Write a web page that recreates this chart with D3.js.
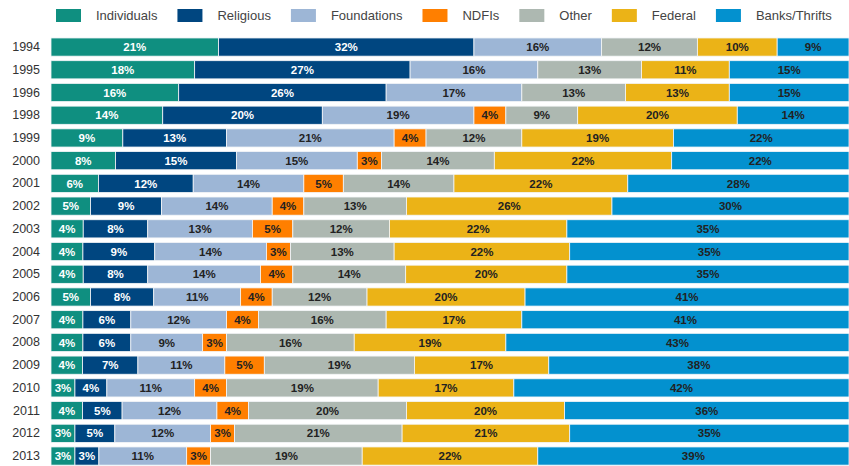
<!DOCTYPE html>
<html>
<head>
<meta charset="utf-8">
<script src="https://cdn.jsdelivr.net/npm/d3@7"></script>
<style>
  body { margin: 0; background: #fff; }
  svg { display: block; font-family: "Liberation Sans", Arial, sans-serif; }
</style>
</head>
<body>
<script>
// chart data
var years = ["1994","1995","1996","1998","1999","2000","2001","2002","2003","2004",
             "2005","2006","2007","2008","2009","2010","2011","2012","2013"];
var seriesNames = ["Individuals","Religious","Foundations","NDFIs","Other","Federal","Banks/Thrifts"];
var individuals = [21,18,16,14,9,8,6,5,4,4,4,5,4,4,4,3,4,3,3];
var religious   = [32,27,26,20,13,15,12,9,8,9,8,8,6,6,7,4,5,5,3];
var foundations = [16,16,17,19,21,15,14,14,13,14,14,11,12,9,11,11,12,12,11];
var ndfis       = [0,0,0,4,4,3,5,4,5,3,4,4,4,3,5,4,4,3,3];
var other       = [12,13,13,9,12,14,14,13,12,13,14,12,16,16,19,19,20,21,19];
var federal     = [10,11,13,20,19,22,22,26,22,22,20,20,17,19,17,17,20,21,22];
var banks       = [9,15,15,14,22,22,28,30,35,35,35,41,41,43,38,42,36,35,39];

var svgWidth = 849;
var svgHeight = 466;

var colors = ["#0f8f80", "#004680", "#9db6d6", "#ff7f00", "#adb8b1", "#ebb317", "#0391cf"];
var lightText = ["Individuals", "Religious"];

// build table for the stack
var seriesValues = [individuals, religious, foundations, ndfis, other, federal, banks];
var table = years.map(function(y, i) {
  var row = { year: y };
  seriesNames.forEach(function(s, j) { row[s] = seriesValues[j][i]; });
  return row;
});

var stacked = d3.stack()
  .keys(seriesNames)
  .offset(d3.stackOffsetExpand)(table);

var svg = d3.select("body")
  .append("svg")
  .attr("width", svgWidth)
  .attr("height", svgHeight);

var xScale = d3.scaleLinear()
  .domain([0, 1])
  .range([51, 849]);

var yScale = d3.scaleBand()
  .domain(years)
  .range([35.7, 467.4])
  .paddingInner(0.2)
  .paddingOuter(0.1);

var color = d3.scaleOrdinal()
  .domain(seriesNames)
  .range(colors);

// bars
var layers = svg.append("g")
  .selectAll("g")
  .data(stacked)
  .enter()
  .append("g")
  .attr("fill", d => color(d.key));

layers.selectAll("rect")
  .data(d => d.map(p => { p.key = d.key; return p; }))
  .enter()
  .append("rect")
  .attr("x", d => xScale(d[0]))
  .attr("y", d => yScale(d.data.year))
  .attr("width", d => Math.max(0, xScale(d[1]) - xScale(d[0])))
  .attr("height", yScale.bandwidth())
  .attr("stroke", "#f4f6f8")
  .attr("stroke-width", 0.8);

// segment labels
layers.selectAll("text")
  .data(d => d.filter(p => p.data[d.key] > 0))
  .enter()
  .append("text")
  .attr("x", d => (xScale(d[0]) + xScale(d[1])) / 2)
  .attr("y", d => yScale(d.data.year) + yScale.bandwidth() / 2)
  .attr("dy", "0.36em")
  .attr("text-anchor", "middle")
  .attr("font-size", "11.5px")
  .attr("font-weight", "bold")
  .attr("fill", d => lightText.indexOf(d.key) >= 0 ? "#ffffff" : "#222222")
  .text(d => d.data[d.key] + "%");

// year labels
var leftAxis = d3.axisLeft(yScale).tickSize(0).tickPadding(0);
var yAxis = svg.append("g")
  .attr("transform", "translate(40,0)")
  .call(leftAxis);
yAxis.select(".domain").remove();
yAxis.selectAll("text")
  .attr("font-size", "12.5px")
  .attr("font-family", "'Liberation Sans', Arial, sans-serif")
  .attr("fill", "#333");

// legend
var legend = svg.append("g");
var lx = 56;
seriesNames.forEach(function(name) {
  var item = legend.append("g").attr("transform", "translate(" + lx + ",0)");
  item.append("rect")
    .attr("x", 0)
    .attr("y", 9)
    .attr("width", 25)
    .attr("height", 13)
    .attr("fill", color(name));
  var t = item.append("text")
    .attr("x", 40)
    .attr("y", 20)
    .attr("font-size", "13px")
    .attr("fill", "#444")
    .text(name);
  lx += 40 + t.node().getComputedTextLength() + 20;
});
</script>
</body>
</html>
